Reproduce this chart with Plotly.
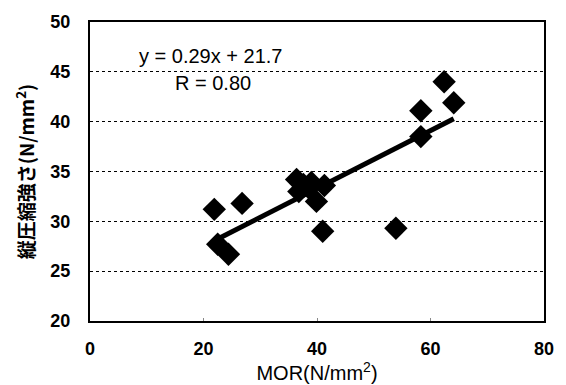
import numpy as np
import plotly.graph_objects as go

mor = [21.9, 22.5, 24.4, 26.8, 36.4, 36.8, 37.6, 38.5, 39.0, 39.9, 41.0, 41.3, 53.9, 58.3, 58.3, 62.4, 64.1]
comp = [31.2, 27.7, 26.7, 31.8, 34.2, 33.0, 33.7, 33.4, 33.9, 32.0, 29.0, 33.6, 29.3, 41.1, 38.5, 44.0, 41.9]
slope = 0.29
intercept = 21.7
r_value = 0.80
fit_range = [22.5, 64.1]

xline = np.array(fit_range)
yline = slope * xline + intercept

font = "Liberation Sans, Arial, sans-serif"
tfont = dict(family=font, size=18, color="black", weight="bold")

fig = go.Figure()
fig.add_trace(go.Scatter(x=mor, y=comp, mode="markers",
                         marker=dict(symbol="diamond", size=18, color="black"),
                         showlegend=False))
fig.add_trace(go.Scatter(x=xline, y=yline, mode="lines",
                         line=dict(color="black", width=5), showlegend=False))

fig.add_annotation(x=8.2, y=46.6, xref="x", yref="y", xanchor="left", yanchor="middle",
                   text=f"y = {slope:.2f}x + {intercept:.1f}", showarrow=False,
                   font=dict(family=font, size=20, color="black"))
fig.add_annotation(x=14.6, y=43.9, xref="x", yref="y", xanchor="left", yanchor="middle",
                   text=f"R = {r_value:.2f}", showarrow=False,
                   font=dict(family=font, size=20, color="black"))

fig.update_layout(
    width=566, height=385,
    margin=dict(l=90, r=20, t=16, b=64),
    paper_bgcolor="white", plot_bgcolor="white",
    font=dict(family=font, size=18, color="black"),
    xaxis=dict(range=[0, 80], tickvals=[0, 20, 40, 60, 80], showgrid=False, zeroline=False,
               showline=True, linecolor="black", linewidth=2, mirror=True,
               ticks="inside", ticklen=3, tickcolor="#888", ticklabelstandoff=10,
               title=dict(text="MOR(N/mm<sup>2</sup>)", standoff=0, font=dict(family=font, size=20)),
               tickfont=tfont),
    yaxis=dict(range=[20, 50], tickvals=[20, 25, 30, 35, 40, 45, 50], showgrid=True,
               gridcolor="black", griddash="dot", gridwidth=1, zeroline=False,
               showline=True, linecolor="black", linewidth=2, mirror=True,
               ticks="", ticklabelstandoff=14,
               title=dict(text="縦圧縮強さ(N/mm<sup>2</sup>)", standoff=11,
                          font=dict(family="Noto Sans CJK JP, " + font, size=19, weight="bold")),
               tickfont=tfont),
)
fig.write_html("out.html")
